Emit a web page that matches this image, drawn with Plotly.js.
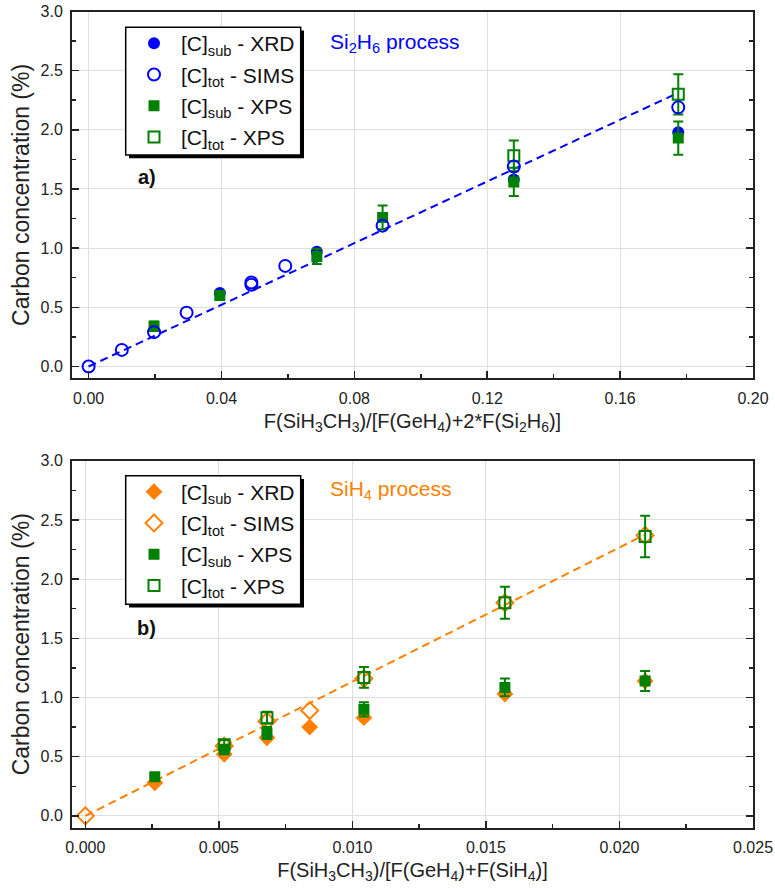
<!DOCTYPE html>
<html>
<head>
<meta charset="utf-8">
<script src="https://cdn.plot.ly/plotly-3.0.1.min.js"></script>
<style>html,body{margin:0;padding:0;background:#fff;}#chart{width:775px;height:892px;}</style>
</head>
<body>
<div id="chart"></div>
<script>
// ---------- Panel a) Si2H6 process ----------
const aXrdX  = [0.0395, 0.0687, 0.128, 0.1775];
const aXrdY  = [0.62, 0.97, 1.58, 1.98];
const aSimsX = [0, 0.01, 0.0197, 0.0295, 0.049, 0.049, 0.0592, 0.0885, 0.128, 0.1775];
const aSimsY = [0, 0.14, 0.29, 0.455, 0.71, 0.69, 0.85, 1.19, 1.69, 2.19];
const aXpsSubX = [0.0197, 0.0395, 0.0687, 0.0885, 0.128, 0.1775];
const aXpsSubY = [0.34, 0.60, 0.93, 1.26, 1.56, 1.93];
const aXpsSubErr = [0.04, 0.03, 0.065, 0.10, 0.12, 0.14];
const aXpsTotX = [0.128, 0.1775];
const aXpsTotY = [1.78, 2.30];
const aXpsTotErr = [0.13, 0.17];
const aFitX = [0, 0.1765];
const aFitY = [0, 2.30];

// ---------- Panel b) SiH4 process ----------
const bXrdX  = [0.0026, 0.0052, 0.0068, 0.0084, 0.01043, 0.01571, 0.02096];
const bXrdY  = [0.28, 0.52, 0.66, 0.75, 0.83, 1.03, 1.14];
const bSimsX = [0, 0.0052, 0.0068, 0.0084, 0.01043, 0.01571, 0.02096];
const bSimsY = [0, 0.59, 0.80, 0.89, 1.16, 1.80, 2.37];
const bXpsSubX = [0.0026, 0.0052, 0.0068, 0.01043, 0.01571, 0.02096];
const bXpsSubY = [0.33, 0.56, 0.70, 0.90, 1.085, 1.14];
const bXpsSubErr = [0.03, 0.04, 0.05, 0.06, 0.075, 0.085];
const bXpsTotX = [0.0052, 0.0068, 0.01043, 0.01571, 0.02096];
const bXpsTotY = [0.60, 0.83, 1.17, 1.80, 2.36];
const bXpsTotErr = [0.04, 0.05, 0.087, 0.135, 0.175];
const bFitX = [0, 0.0209];
const bFitY = [0, 2.37];

const legendNames = ['[C]<sub>sub</sub> - XRD', '[C]<sub>tot</sub> - SIMS', '[C]<sub>sub</sub> - XPS', '[C]<sub>tot</sub> - XPS'];

const BLUE = '#0000ff', GREEN = '#008000', ORANGE = '#ff8000';

function errBar(arr){ return {type:'data', array:arr, visible:true, color:GREEN, thickness:2, width:5}; }

const traces = [
  // panel a
  {x:aFitX, y:aFitY, xaxis:'x', yaxis:'y', mode:'lines', line:{color:BLUE, width:2, dash:'8px,5px'}, showlegend:false, hoverinfo:'skip'},
  {x:aXrdX, y:aXrdY, xaxis:'x', yaxis:'y', mode:'markers', name:legendNames[0], legend:'legend', legendrank:1, legendgroup:'a1',
   marker:{symbol:'circle', size:12, color:BLUE}},
  {x:aXpsSubX, y:aXpsSubY, xaxis:'x', yaxis:'y', mode:'markers', name:legendNames[2], legend:'legend', legendrank:3, legendgroup:'a3',
   marker:{symbol:'square', size:11, color:GREEN}, error_y:errBar(aXpsSubErr)},
  {x:aXpsTotX, y:aXpsTotY, xaxis:'x', yaxis:'y', mode:'markers', name:legendNames[3], legend:'legend', legendrank:4, legendgroup:'a4',
   marker:{symbol:'square-open', size:11, color:GREEN, line:{width:2, color:GREEN}}, error_y:errBar(aXpsTotErr)},
  {x:aSimsX, y:aSimsY, xaxis:'x', yaxis:'y', mode:'markers', name:legendNames[1], legend:'legend', legendrank:2, legendgroup:'a2',
   marker:{symbol:'circle-open', size:12, color:BLUE, line:{width:2, color:BLUE}}},
  // panel b
  {x:bFitX, y:bFitY, xaxis:'x2', yaxis:'y2', mode:'lines', line:{color:ORANGE, width:2, dash:'8px,5px'}, showlegend:false, hoverinfo:'skip'},
  {x:bXrdX, y:bXrdY, xaxis:'x2', yaxis:'y2', mode:'markers', name:legendNames[0], legend:'legend2', legendrank:1, legendgroup:'b1',
   marker:{symbol:'diamond', size:13, color:ORANGE}},
  {x:bSimsX, y:bSimsY, xaxis:'x2', yaxis:'y2', mode:'markers', name:legendNames[1], legend:'legend2', legendrank:2, legendgroup:'b2',
   marker:{symbol:'diamond-open', size:13, color:ORANGE, line:{width:2, color:ORANGE}}},
  {x:bXpsSubX, y:bXpsSubY, xaxis:'x2', yaxis:'y2', mode:'markers', name:legendNames[2], legend:'legend2', legendrank:3, legendgroup:'b3',
   marker:{symbol:'square', size:11, color:GREEN}, error_y:errBar(bXpsSubErr)},
  {x:bXpsTotX, y:bXpsTotY, xaxis:'x2', yaxis:'y2', mode:'markers', name:legendNames[3], legend:'legend2', legendrank:4, legendgroup:'b4',
   marker:{symbol:'square-open', size:11, color:GREEN, line:{width:2, color:GREEN}}, error_y:errBar(bXpsTotErr)}
];

const FONT = 'Liberation Sans, Arial, sans-serif';
const axisCommon = {
  showline:true, linewidth:2, linecolor:'#222', mirror:'ticks',
  ticks:'inside', ticklen:7, tickwidth:1.5, tickcolor:'#222',
  showgrid:true, gridcolor:'#dedede', gridwidth:1, zeroline:false,
  tickfont:{family:FONT, size:16, color:'#222'}, ticklabelstandoff:4
};
function xa(extra){ return Object.assign({}, axisCommon, {mirror:true}, extra); }
function ya(extra){ return Object.assign({}, axisCommon, extra); }

const H = 892, L = 72, PW = 681;
const px = v => (v - L) / PW;     // pixel x -> paper x
const py = v => 1 - v / H;        // pixel y -> paper y

const legendCommon = {
  xanchor:'left', yanchor:'top', bgcolor:'rgba(0,0,0,0)', borderwidth:0,
  font:{family:FONT, size:21, color:'#111'}, tracegroupgap:1, itemwidth:44
};
const yTitleFont = {family:FONT, size:23, color:'#222'};
const xTitleFont = {family:FONT, size:20, color:'#222'};

// legend frames (box + drop shadow) in pixels: [left, top, right, bottom]
const frames = [[125.7, 27.3, 300.7, 155], [125.7, 475.7, 300.7, 604.3]];
const SH = 3.3;
const shapes = [];
frames.forEach(function(f){
  shapes.push({type:'rect', xref:'paper', yref:'paper', layer:'above', fillcolor:'#000', line:{width:0},
    x0:px(f[0]+SH), x1:px(f[2]+SH), y0:py(f[3]+SH), y1:py(f[1]+SH)});
  shapes.push({type:'rect', xref:'paper', yref:'paper', layer:'above', fillcolor:'#fff', line:{width:1.5, color:'#000'},
    x0:px(f[0]), x1:px(f[2]), y0:py(f[3]), y1:py(f[1])});
});

const layout = {
  width:775, height:892,
  margin:{l:L, r:22, t:0, b:0},
  paper_bgcolor:'#fff', plot_bgcolor:'#fff',
  font:{family:FONT, color:'#222'},
  xaxis: xa({anchor:'y', domain:[0,1], range:[-0.005,0.2], tick0:0, dtick:0.04, tickformat:'.2f',
    minor:{dtick:0.02, ticks:'inside', ticklen:4, tickcolor:'#222', showgrid:false},
    title:{text:'F(SiH<sub>3</sub>CH<sub>3</sub>)/[F(GeH<sub>4</sub>)+2*F(Si<sub>2</sub>H<sub>6</sub>)]', font:xTitleFont, standoff:8}}),
  yaxis: ya({anchor:'x', domain:[(H-378.3)/H, (H-11.5)/H], range:[-0.1,3.0], tick0:0, dtick:0.5, tickformat:'.1f',
    minor:{dtick:0.25, ticks:'inside', ticklen:4, tickcolor:'#222', showgrid:false},
    title:{text:'Carbon concentration (%)', font:yTitleFont, standoff:4}}),
  xaxis2: xa({anchor:'y2', domain:[0,1], range:[-0.0005,0.025], tick0:0, dtick:0.005, tickformat:'.3f',
    minor:{dtick:0.0025, ticks:'inside', ticklen:4, tickcolor:'#222', showgrid:false},
    title:{text:'F(SiH<sub>3</sub>CH<sub>3</sub>)/[F(GeH<sub>4</sub>)+F(SiH<sub>4</sub>)]', font:xTitleFont, standoff:8}}),
  yaxis2: ya({anchor:'x2', domain:[(H-827.7)/H, (H-460.8)/H], range:[-0.1,3.0], tick0:0, dtick:0.5, tickformat:'.1f',
    minor:{dtick:0.25, ticks:'inside', ticklen:4, tickcolor:'#222', showgrid:false},
    title:{text:'Carbon concentration (%)', font:yTitleFont, standoff:4}}),
  legend: Object.assign({}, legendCommon, {x:px(127), y:py(23)}),
  legend2: Object.assign({}, legendCommon, {x:px(127), y:py(471.5)}),
  shapes: shapes,
  annotations: [
    {xref:'paper', yref:'paper', x:px(328), y:py(43), xanchor:'left', yanchor:'middle', showarrow:false,
     text:'Si<sub>2</sub>H<sub>6</sub> process', font:{family:FONT, size:21, color:BLUE}},
    {xref:'paper', yref:'paper', x:px(328), y:py(490), xanchor:'left', yanchor:'middle', showarrow:false,
     text:'SiH<sub>4</sub> process', font:{family:FONT, size:21, color:ORANGE}},
    {xref:'paper', yref:'paper', x:px(146.7), y:py(176.7), xanchor:'center', yanchor:'middle', showarrow:false,
     text:'<b>a)</b>', font:{family:FONT, size:20, color:'#111'}},
    {xref:'paper', yref:'paper', x:px(146.7), y:py(628), xanchor:'center', yanchor:'middle', showarrow:false,
     text:'<b>b)</b>', font:{family:FONT, size:20, color:'#111'}}
  ]
};

Plotly.newPlot('chart', traces, layout, {displayModeBar:false, staticPlot:true});
</script>
</body>
</html>
